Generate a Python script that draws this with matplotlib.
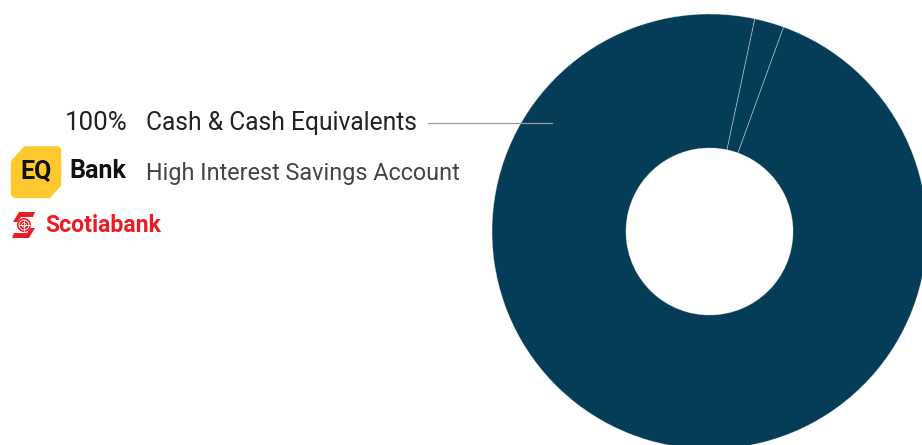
import matplotlib
matplotlib.use("Agg")
import matplotlib.pyplot as plt
from matplotlib.patches import Polygon, Circle

# data
segment_shares = [2.2, 97.8]          # two cash holdings, % of portfolio
asset_class = "Cash & Cash Equivalents"
asset_pct = "100%"
holding_name = "High Interest Savings Account"

W, H = 922, 445
NAVY = "#053d58"
INK = "#222222"
RED = "#ec1c24"
YELLOW = "#ffc82c"


def Y(py):
    # pixel row (top = 0) -> data y
    return H - py


fig = plt.figure(figsize=(W / 100, H / 100), dpi=100)
ax = fig.add_axes([0, 0, 1, 1])

# donut
ax.pie(segment_shares, colors=[NAVY, NAVY], startangle=78, counterclock=False,
       center=(709.5, Y(231.5)), radius=217.5, frame=True,
       wedgeprops=dict(width=134, edgecolor=(1, 1, 1, 0.4), linewidth=0.6))

# leader line
ax.plot([428, 552], [Y(123), Y(123)], color="#9a9a9a", lw=0.9, zorder=5)

# labels
ax.text(65, Y(130), asset_pct, fontsize=18.6, color=INK, family="Roboto", va="baseline")
ax.text(146, Y(130), asset_class, fontsize=17.7, color=INK, family="Roboto", va="baseline")
ax.text(146, Y(180), holding_name, fontsize=16.8, color="#444444", family="Roboto",
        va="baseline")

# EQ Bank logo
eq = Polygon([(25, Y(148)), (58, Y(148)), (59.5, Y(150)), (59.5, Y(185)), (49, Y(196.5)),
              (15, Y(196.5)), (12.5, Y(194)), (12.5, Y(162))],
             closed=True, facecolor=YELLOW, edgecolor=YELLOW, lw=2.5, joinstyle="round")
ax.add_patch(eq)
ax.text(36, Y(178.5), "EQ", fontsize=18, weight="bold", color="#111111", family="Roboto",
        ha="center", va="baseline")
ax.text(69, Y(178.5), "Bank", fontsize=18, weight="bold", color="#111111", family="Roboto",
        va="baseline")

# Scotiabank logo
top_piece = Polygon([(19, Y(212)), (35, Y(212)), (33, Y(217)), (21, Y(217)),
                     (17.5, Y(222)), (13, Y(222))],
                    closed=True, facecolor=RED, edgecolor="none")
bot_piece = Polygon([(30.5, Y(228)), (35, Y(228)), (29, Y(238)), (12, Y(238)),
                     (14, Y(233)), (27, Y(233))],
                    closed=True, facecolor=RED, edgecolor="none")
ax.add_patch(top_piece)
ax.add_patch(bot_piece)
ax.add_patch(Circle((24, Y(225)), 7, facecolor=RED, edgecolor="none"))
ax.add_patch(Circle((24, Y(225)), 5, facecolor="none", edgecolor="white", lw=0.6))
ax.add_patch(Circle((24, Y(225)), 2.3, facecolor="none", edgecolor="white", lw=0.5))
ax.plot([18.5, 29.5], [Y(225), Y(225)], color="white", lw=0.6)
ax.plot([24, 24], [Y(219.5), Y(230.5)], color="white", lw=0.6)
ax.text(45, Y(232), "Scotiabank", fontsize=16.6, weight="bold", color=RED, family="Roboto",
        va="baseline")

ax.set_xlim(0, W)
ax.set_ylim(0, H)
ax.set_aspect("equal")
ax.axis("off")

fig.savefig("out.png", dpi=100, facecolor="white")
